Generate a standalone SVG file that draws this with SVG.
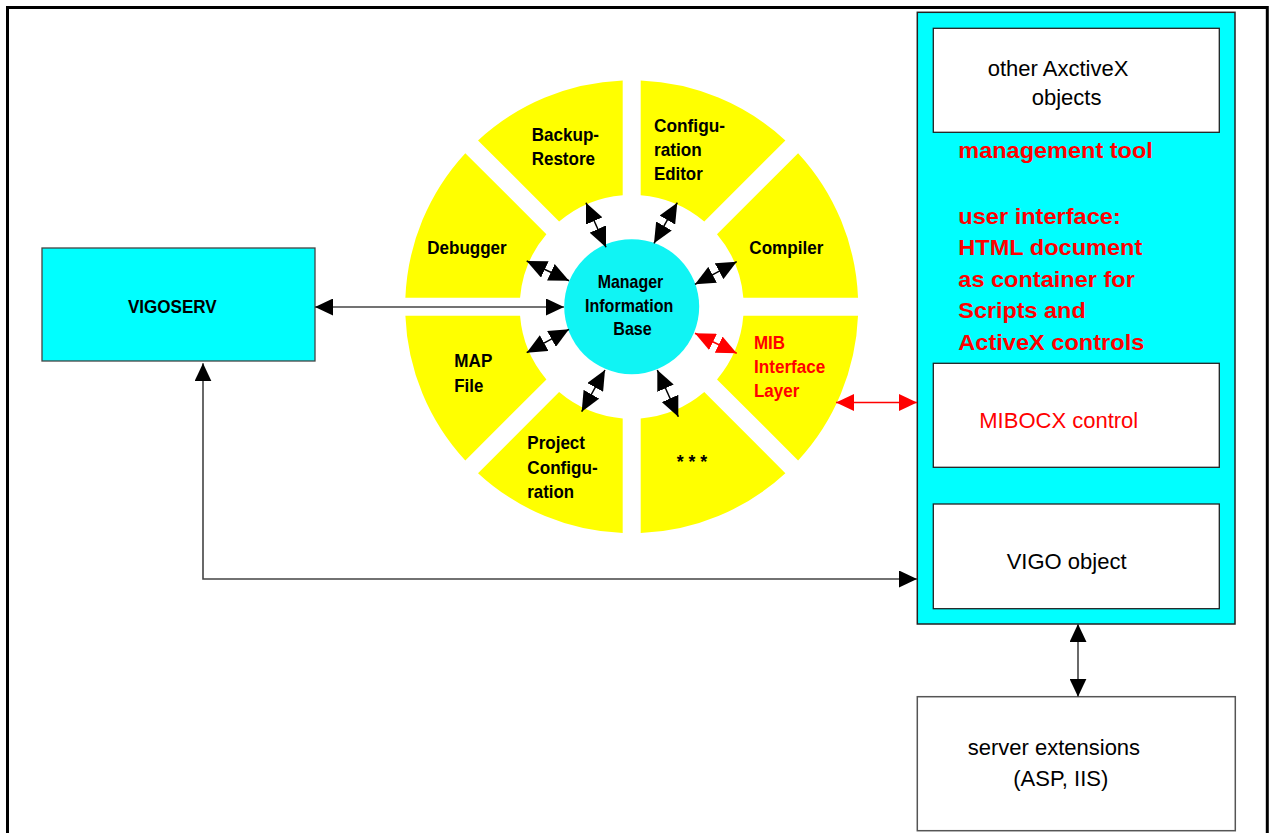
<svg xmlns="http://www.w3.org/2000/svg" width="1271" height="833" viewBox="0 0 1271 833">
<style>
.lbl{font-family:"Liberation Sans",Arial,sans-serif;font-weight:bold;font-size:19px;fill:#000}
.txt{font-family:"Liberation Sans",Arial,sans-serif;font-size:22px;fill:#000}
.bold22{font-family:"Liberation Sans",Arial,sans-serif;font-weight:bold;font-size:22px;fill:#FF0000}
.red{fill:#FF0000}
.sector{fill:#FFFF00}
.box{fill:#FFFFFF;stroke:#222;stroke-width:1.3}
.conn{stroke:#444;stroke-width:1.6;fill:none;marker-start:url(#ah);marker-end:url(#ah)}
.warr{stroke:#000;stroke-width:1.5;fill:none;marker-start:url(#ahw);marker-end:url(#ahw)}
.rarr{stroke:#FF0000;stroke-width:1.5;fill:none;marker-start:url(#ahr);marker-end:url(#ahr)}
.rarrw{stroke:#FF0000;stroke-width:1.5;fill:none;marker-start:url(#ahrw);marker-end:url(#ahrw)}
</style>
<defs>
<marker id="ah" markerUnits="userSpaceOnUse" markerWidth="18" markerHeight="17" refX="18" refY="8.5" orient="auto-start-reverse" viewBox="0 0 18 17"><path d="M0,0 L18,8.5 L0,17 Z" fill="#000"/></marker>
<marker id="ahw" markerUnits="userSpaceOnUse" markerWidth="20" markerHeight="18" refX="20" refY="9" orient="auto-start-reverse" viewBox="0 0 20 18"><path d="M0,0 L20,9 L0,18 Z" fill="#000"/></marker>
<marker id="ahr" markerUnits="userSpaceOnUse" markerWidth="18" markerHeight="17" refX="18" refY="8.5" orient="auto-start-reverse" viewBox="0 0 18 17"><path d="M0,0 L18,8.5 L0,17 Z" fill="#FF0000"/></marker>
<marker id="ahrw" markerUnits="userSpaceOnUse" markerWidth="20" markerHeight="18" refX="20" refY="9" orient="auto-start-reverse" viewBox="0 0 20 18"><path d="M0,0 L20,9 L0,18 Z" fill="#FF0000"/></marker>
<path id="sector" d="M85.30,-72.58 L166.40,-153.67 A226.5,226.5 0 0 1 226.32,-9 L111.64,-9 A112,112 0 0 0 85.30,-72.58 Z"/>
</defs>
<rect width="1271" height="833" fill="#FFFFFF"/>
<rect id="frame" x="7.5" y="7.5" width="1259.8" height="840" fill="none" stroke="#000" stroke-width="3"/>

<g id="vigoserv">
<rect x="42" y="248" width="273" height="113" fill="#00FFFF" stroke="#444" stroke-width="1.3"/>
<text class="lbl" x="128" y="313.3" textLength="88.7" lengthAdjust="spacingAndGlyphs">VIGOSERV</text>
</g>

<g id="wheel">
<g id="compiler"><use href="#sector" class="sector" transform="translate(631.7,306.8) rotate(0)"/>
<text class="lbl" x="749.3" y="254" textLength="74" lengthAdjust="spacingAndGlyphs">Compiler</text></g>
<g id="mib-interface-layer"><use href="#sector" class="sector" transform="translate(631.7,306.8) rotate(45)"/>
<text class="lbl red" x="754" y="349.3" textLength="31" lengthAdjust="spacingAndGlyphs">MIB</text>
<text class="lbl red" x="754" y="373.3" textLength="71.3" lengthAdjust="spacingAndGlyphs">Interface</text>
<text class="lbl red" x="754" y="396.7" textLength="45.3" lengthAdjust="spacingAndGlyphs">Layer</text></g>
<g id="more"><use href="#sector" class="sector" transform="translate(631.7,306.8) rotate(90)"/>
<text class="lbl" x="676.7" y="468" textLength="30.6" lengthAdjust="spacingAndGlyphs">* * *</text></g>
<g id="project-configuration"><use href="#sector" class="sector" transform="translate(631.7,306.8) rotate(135)"/>
<text class="lbl" x="527.3" y="449" textLength="57.7" lengthAdjust="spacingAndGlyphs">Project</text>
<text class="lbl" x="527.3" y="474" textLength="70.4" lengthAdjust="spacingAndGlyphs">Configu-</text>
<text class="lbl" x="527.3" y="497.7" textLength="46.7" lengthAdjust="spacingAndGlyphs">ration</text></g>
<g id="map-file"><use href="#sector" class="sector" transform="translate(631.7,306.8) rotate(180)"/>
<text class="lbl" x="454.3" y="366.7" textLength="38" lengthAdjust="spacingAndGlyphs">MAP</text>
<text class="lbl" x="454.3" y="391.7" textLength="29" lengthAdjust="spacingAndGlyphs">File</text></g>
<g id="debugger"><use href="#sector" class="sector" transform="translate(631.7,306.8) rotate(225)"/>
<text class="lbl" x="427.3" y="254" textLength="79.4" lengthAdjust="spacingAndGlyphs">Debugger</text></g>
<g id="backup-restore"><use href="#sector" class="sector" transform="translate(631.7,306.8) rotate(270)"/>
<text class="lbl" x="531.7" y="140.7" textLength="67.3" lengthAdjust="spacingAndGlyphs">Backup-</text>
<text class="lbl" x="531.7" y="165" textLength="63.3" lengthAdjust="spacingAndGlyphs">Restore</text></g>
<g id="configuration-editor"><use href="#sector" class="sector" transform="translate(631.7,306.8) rotate(315)"/>
<text class="lbl" x="654" y="131.7" textLength="71" lengthAdjust="spacingAndGlyphs">Configu-</text>
<text class="lbl" x="654" y="156" textLength="47.7" lengthAdjust="spacingAndGlyphs">ration</text>
<text class="lbl" x="654" y="180" textLength="48.7" lengthAdjust="spacingAndGlyphs">Editor</text></g>
</g>

<g id="mib">
<circle cx="631.7" cy="306.7" r="67.5" fill="#10F4F4"/>
<text class="lbl" x="597.7" y="288.3" textLength="65.6" lengthAdjust="spacingAndGlyphs">Manager</text>
<text class="lbl" x="585" y="312.3" textLength="88.3" lengthAdjust="spacingAndGlyphs">Information</text>
<text class="lbl" x="613.3" y="335" textLength="38.4" lengthAdjust="spacingAndGlyphs">Base</text>
</g>

<g id="management-tool">
<rect x="917.3" y="12.3" width="317.7" height="611.7" fill="#00FFFF" stroke="#222" stroke-width="1.5"/>
<text class="bold22" x="958.3" y="158.3" textLength="194.5" lengthAdjust="spacingAndGlyphs">management tool</text>
<text class="bold22" x="958.3" y="223.7" textLength="162.5" lengthAdjust="spacingAndGlyphs">user interface:</text>
<text class="bold22" x="958.3" y="255.4" textLength="184" lengthAdjust="spacingAndGlyphs">HTML document</text>
<text class="bold22" x="958.3" y="286.5" textLength="176.5" lengthAdjust="spacingAndGlyphs">as container for</text>
<text class="bold22" x="958.3" y="317.5" textLength="127.4" lengthAdjust="spacingAndGlyphs">Scripts and</text>
<text class="bold22" x="958.3" y="349.7" textLength="186" lengthAdjust="spacingAndGlyphs">ActiveX controls</text>
</g>
<g id="other-activex">
<rect class="box" x="933.3" y="28.3" width="286" height="104"/>
<text class="txt" x="987.7" y="76">other AxctiveX</text>
<text class="txt" x="1031.7" y="105">objects</text>
</g>
<g id="mibocx">
<rect class="box" x="933.3" y="363.3" width="286" height="104"/>
<text class="txt red" x="979.3" y="428.3">MIBOCX control</text>
</g>
<g id="vigo-object">
<rect class="box" x="933.3" y="504" width="286" height="104.7"/>
<text class="txt" x="1006.7" y="569.3">VIGO object</text>
</g>
<g id="server-extensions">
<rect x="917.3" y="696.7" width="318" height="134" fill="#FFFFFF" stroke="#555" stroke-width="1.5"/>
<text class="txt" x="967.7" y="755">server extensions</text>
<text class="txt" x="1013.3" y="786">(ASP, IIS)</text>
</g>

<g id="connectors">
<line class="conn" x1="315" y1="307" x2="564" y2="307"/>
<path class="conn" d="M203,363.3 L203,579 L917,579"/>
<line class="conn" x1="1078" y1="624" x2="1078" y2="696.7"/>
<line class="rarr" x1="836" y1="402.5" x2="917" y2="402.5"/>
<line class="rarrw" x1="695" y1="333.3" x2="736.7" y2="353.3"/>
<line class="warr" x1="586" y1="202.7" x2="606" y2="247.3"/>
<line class="warr" x1="677.3" y1="202.7" x2="654" y2="243.3"/>
<line class="warr" x1="736.7" y1="261.7" x2="695" y2="284.3"/>
<line class="warr" x1="526.7" y1="261" x2="569" y2="280.7"/>
<line class="warr" x1="526.7" y1="352.7" x2="569" y2="329.3"/>
<line class="warr" x1="605" y1="370" x2="581.7" y2="411.7"/>
<line class="warr" x1="657.3" y1="370" x2="678.3" y2="416.7"/>
</g>
</svg>
